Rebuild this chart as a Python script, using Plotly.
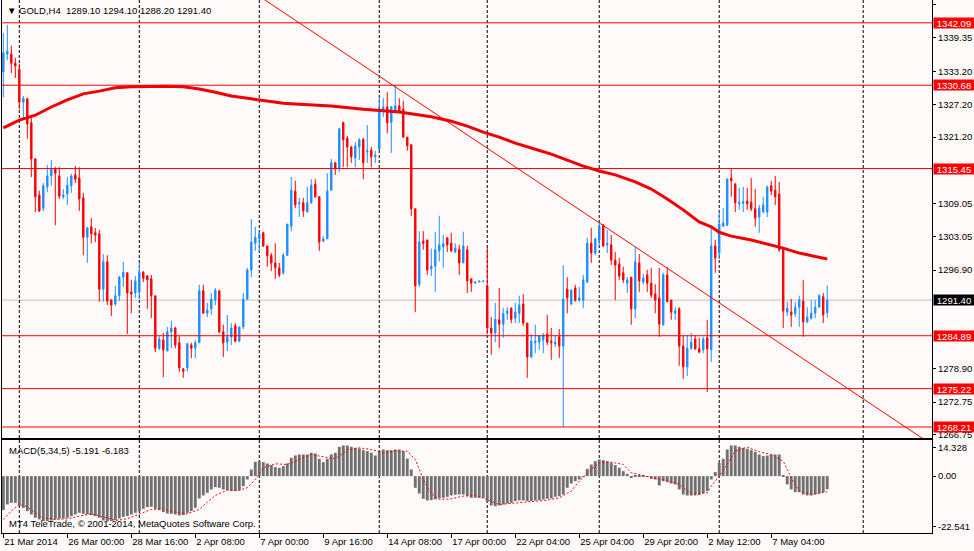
import plotly.graph_objects as go

# GOLD H4, 21 Mar 2014 .. 8 May 2014, x = bar number (MT4 skips weekends)
opens = [1333.1, 1336.4, 1336.4, 1334.7, 1333.6, 1327.6, 1328.2, 1323.8, 1317.2, 1310.6,
         1308.2, 1312.1, 1314.1, 1315.4, 1314.1, 1310.3, 1310.8, 1312.3, 1314.3, 1313.7,
         1310.1, 1302.9, 1304.8, 1303.7, 1303.5, 1293.4, 1298.4, 1291.4, 1290.7, 1292.2,
         1295.6, 1296.4, 1292.9, 1292.7, 1292.9, 1296.5, 1295.8, 1295.3, 1292.2, 1282.6,
         1284.1, 1282.1, 1285.6, 1286.3, 1283.6, 1278.8, 1279.0, 1283.2, 1282.6, 1283.6,
         1293.1, 1289.0, 1289.8, 1291.4, 1293.1, 1285.6, 1283.7, 1284.7, 1286.7, 1283.9,
         1286.5, 1291.6, 1296.9, 1301.8, 1302.6, 1303.7, 1301.3, 1299.6, 1298.2, 1297.3,
         1296.4, 1299.6, 1304.9, 1311.3, 1309.0, 1309.2, 1307.5, 1309.2, 1312.6, 1310.3,
         1302.2, 1302.6, 1311.5, 1316.5, 1315.5, 1323.9, 1321.0, 1319.4, 1317.4, 1319.4,
         1320.8, 1318.5, 1318.8, 1317.6, 1319.0, 1326.3, 1326.7, 1323.9, 1325.8, 1326.9,
         1326.3, 1321.2, 1319.8, 1308.1, 1294.3, 1302.2, 1302.4, 1297.1, 1297.6, 1300.4,
         1301.1, 1302.8, 1301.8, 1300.2, 1300.7, 1298.2, 1300.6, 1295.3, 1294.5, 1294.7,
         1294.8, 1294.0, 1286.3, 1285.4, 1287.8, 1287.0, 1289.0, 1289.9, 1288.1, 1289.0,
         1290.7, 1287.2, 1281.0, 1283.6, 1283.7, 1284.1, 1285.2, 1283.9, 1283.4, 1284.7,
         1283.0, 1293.4, 1290.7, 1293.6, 1291.4, 1291.4, 1294.7, 1301.8, 1300.0, 1302.4,
         1305.1, 1301.5, 1301.5, 1298.7, 1298.0, 1296.4, 1294.5, 1295.6, 1289.8, 1298.2,
         1294.7, 1296.0, 1294.5, 1292.5, 1291.8, 1286.9, 1296.0, 1291.4, 1289.0, 1289.8,
         1283.0, 1279.2, 1282.6, 1284.3, 1282.5, 1282.3, 1284.5, 1282.3, 1301.3, 1300.0,
         1304.9, 1305.1, 1313.7, 1312.6, 1309.0, 1309.1, 1309.5, 1309.3, 1308.1, 1306.6,
         1307.5, 1307.5, 1312.3, 1311.5, 1310.8, 1300.7, 1289.2, 1289.2, 1288.9, 1290.1,
         1291.2, 1287.4, 1288.1, 1289.0, 1290.1, 1292.0, 1289.1]
highs = [1340.2, 1341.7, 1337.9, 1335.7, 1334.6, 1328.7, 1328.3, 1325.2, 1317.4, 1311.4,
         1312.8, 1316.1, 1317.0, 1315.7, 1315.7, 1311.7, 1313.9, 1314.5, 1315.9, 1315.7,
         1311.0, 1304.8, 1306.4, 1304.6, 1304.2, 1299.8, 1299.6, 1291.6, 1294.0, 1295.8,
         1298.4, 1296.4, 1295.1, 1295.8, 1298.2, 1296.7, 1296.0, 1296.0, 1292.2, 1284.8,
         1285.4, 1286.5, 1287.6, 1286.5, 1284.8, 1279.0, 1283.6, 1283.6, 1284.1, 1294.2,
         1294.2, 1290.9, 1292.7, 1293.6, 1293.2, 1286.9, 1288.7, 1287.2, 1287.2, 1286.5,
         1292.7, 1297.3, 1306.2, 1304.8, 1303.9, 1303.9, 1301.3, 1300.0, 1301.8, 1298.2,
         1300.0, 1305.3, 1313.9, 1313.2, 1310.1, 1310.1, 1312.1, 1313.5, 1313.5, 1310.4,
         1303.1, 1314.6, 1317.2, 1316.6, 1322.9, 1323.9, 1321.4, 1319.6, 1320.3, 1321.0,
         1321.0, 1323.4, 1319.4, 1318.7, 1328.5, 1328.3, 1329.4, 1326.9, 1330.7, 1328.3,
         1327.8, 1321.2, 1319.9, 1308.1, 1304.0, 1304.0, 1302.4, 1300.8, 1303.9, 1306.8,
         1303.3, 1302.8, 1303.7, 1301.8, 1301.5, 1303.9, 1301.3, 1295.3, 1294.9, 1294.9,
         1294.9, 1301.1, 1288.3, 1290.9, 1293.6, 1290.0, 1290.1, 1290.1, 1290.9, 1292.2,
         1292.5, 1287.2, 1285.2, 1286.9, 1285.0, 1285.4, 1288.7, 1286.3, 1285.0, 1286.1,
         1297.8, 1295.6, 1293.4, 1294.2, 1293.8, 1296.0, 1302.8, 1304.6, 1302.8, 1305.7,
         1305.3, 1304.2, 1303.3, 1300.2, 1299.1, 1297.5, 1295.6, 1295.6, 1301.1, 1299.8,
         1296.2, 1296.9, 1297.3, 1294.3, 1297.3, 1296.4, 1297.5, 1291.4, 1290.1, 1290.1,
         1285.0, 1285.0, 1285.4, 1285.0, 1284.5, 1284.7, 1287.8, 1304.6, 1302.4, 1307.5,
         1308.2, 1313.7, 1315.4, 1312.8, 1311.9, 1312.1, 1311.9, 1313.7, 1311.7, 1308.8,
         1310.3, 1312.3, 1313.2, 1314.1, 1313.0, 1301.1, 1291.1, 1291.6, 1291.1, 1292.2,
         1295.1, 1290.1, 1291.4, 1291.4, 1292.5, 1292.7, 1294.1]
lows = [1328.5, 1335.3, 1332.9, 1332.0, 1326.3, 1324.7, 1320.9, 1313.9, 1307.5, 1307.5,
        1307.7, 1311.2, 1312.4, 1305.1, 1309.9, 1309.9, 1308.8, 1311.0, 1312.8, 1307.7,
        1299.6, 1298.2, 1301.8, 1302.0, 1291.1, 1291.1, 1290.5, 1288.5, 1290.3, 1291.2,
        1293.8, 1285.2, 1289.0, 1291.8, 1291.6, 1294.7, 1289.8, 1288.1, 1281.9, 1282.3,
        1277.3, 1282.1, 1282.6, 1282.6, 1278.3, 1277.2, 1278.3, 1280.8, 1280.8, 1283.6,
        1289.0, 1288.3, 1288.7, 1290.5, 1285.4, 1281.0, 1282.1, 1283.2, 1283.7, 1283.7,
        1286.1, 1291.4, 1295.6, 1300.4, 1300.2, 1301.1, 1297.5, 1296.7, 1295.3, 1295.6,
        1296.0, 1299.5, 1304.0, 1308.2, 1306.6, 1306.6, 1307.5, 1309.0, 1310.1, 1300.4,
        1302.0, 1302.6, 1311.5, 1314.3, 1314.8, 1315.7, 1315.7, 1316.5, 1315.7, 1317.0,
        1313.5, 1316.5, 1315.7, 1316.5, 1318.8, 1324.9, 1321.9, 1318.3, 1325.8, 1325.8,
        1321.0, 1318.7, 1306.8, 1289.2, 1293.8, 1300.6, 1296.0, 1295.8, 1292.9, 1298.5,
        1297.3, 1300.2, 1300.2, 1300.0, 1296.0, 1298.2, 1292.7, 1292.9, 1294.5, 1294.7,
        1294.7, 1285.2, 1281.4, 1283.7, 1282.6, 1284.5, 1287.8, 1287.2, 1287.2, 1287.2,
        1286.7, 1277.2, 1280.8, 1281.7, 1282.3, 1281.7, 1283.2, 1280.5, 1282.8, 1280.8,
        1268.2, 1289.0, 1290.5, 1291.1, 1291.1, 1289.9, 1294.5, 1298.2, 1299.6, 1301.3,
        1301.1, 1300.0, 1297.8, 1291.4, 1295.1, 1294.5, 1292.7, 1286.9, 1288.1, 1292.9,
        1294.3, 1292.9, 1291.8, 1289.0, 1284.7, 1286.7, 1291.1, 1287.8, 1287.8, 1279.4,
        1277.0, 1277.5, 1282.3, 1282.3, 1281.7, 1281.7, 1274.6, 1280.1, 1296.4, 1298.9,
        1304.8, 1304.9, 1310.3, 1307.5, 1307.9, 1307.5, 1307.9, 1307.7, 1304.8, 1303.7,
        1307.3, 1306.6, 1310.6, 1308.8, 1300.2, 1286.3, 1288.5, 1286.5, 1288.3, 1286.5,
        1284.7, 1287.2, 1287.8, 1288.1, 1290.1, 1287.2, 1288.2]
closes = [1336.6, 1336.9, 1334.7, 1334.2, 1327.6, 1328.3, 1323.6, 1317.2, 1310.3, 1307.7,
          1312.3, 1314.1, 1315.4, 1314.6, 1310.4, 1310.6, 1312.4, 1314.1, 1313.5, 1309.9,
          1302.9, 1304.6, 1303.5, 1303.3, 1293.4, 1298.4, 1291.2, 1290.5, 1292.2, 1295.6,
          1296.5, 1292.7, 1292.5, 1294.9, 1296.5, 1295.4, 1295.1, 1292.2, 1282.6, 1284.3,
          1282.3, 1285.6, 1286.3, 1283.2, 1279.0, 1278.4, 1283.4, 1282.6, 1283.6, 1293.1,
          1289.0, 1289.6, 1291.6, 1293.2, 1285.6, 1283.6, 1284.7, 1286.3, 1283.9, 1286.5,
          1291.6, 1296.9, 1302.0, 1302.9, 1303.5, 1301.3, 1299.5, 1298.2, 1297.3, 1296.0,
          1299.6, 1305.3, 1311.5, 1308.8, 1309.2, 1307.7, 1309.2, 1312.4, 1310.3, 1302.0,
          1302.6, 1311.3, 1316.5, 1315.5, 1322.7, 1320.7, 1319.4, 1317.6, 1319.6, 1320.7,
          1316.5, 1318.7, 1317.6, 1317.9, 1326.5, 1326.7, 1323.8, 1326.7, 1326.9, 1325.9,
          1321.2, 1319.6, 1308.1, 1294.0, 1302.0, 1301.8, 1296.9, 1297.6, 1300.6, 1301.5,
          1301.7, 1301.5, 1300.4, 1300.9, 1298.2, 1301.3, 1294.9, 1294.5, 1294.7, 1294.9,
          1294.9, 1286.3, 1285.4, 1287.9, 1287.0, 1288.9, 1289.4, 1287.9, 1289.2, 1290.5,
          1287.2, 1281.0, 1283.9, 1283.9, 1284.8, 1285.0, 1283.7, 1283.6, 1283.7, 1283.0,
          1291.6, 1291.8, 1293.2, 1291.4, 1291.8, 1295.1, 1301.8, 1300.0, 1302.6, 1304.9,
          1301.3, 1301.7, 1298.7, 1297.8, 1295.8, 1295.1, 1295.1, 1289.8, 1298.4, 1294.9,
          1295.4, 1294.5, 1292.3, 1291.4, 1287.0, 1296.0, 1291.1, 1289.2, 1289.4, 1283.0,
          1279.2, 1282.6, 1283.7, 1282.5, 1281.9, 1284.3, 1282.5, 1301.3, 1299.1, 1305.3,
          1305.5, 1313.5, 1313.2, 1309.2, 1309.3, 1309.4, 1309.0, 1308.1, 1306.4, 1308.2,
          1308.8, 1312.1, 1311.3, 1310.3, 1300.6, 1289.4, 1289.9, 1288.7, 1290.1, 1291.4,
          1287.4, 1288.3, 1289.0, 1290.1, 1292.2, 1288.7, 1291.4]
bars = list(range(len(opens)))

# red moving average, read at some bars
ma_x = [0, 4, 8, 12, 16, 20, 24, 28, 32, 37, 41, 45, 49, 53, 57, 62, 66, 70, 74, 78,
        82, 90, 99, 107, 112, 116, 120, 124, 128, 132, 137, 141, 145, 149, 153, 158, 162, 166, 170, 174,
        177, 179, 182, 187, 191, 195, 199, 203, 206]
ma_y = [1322.9, 1324.3, 1325.2, 1326.7, 1328.0, 1329.1, 1329.6, 1330.2, 1330.4, 1330.5,
        1330.5, 1330.4, 1330.0, 1329.4, 1328.7, 1328.2, 1327.8, 1327.4, 1327.2, 1327.1,
        1326.9, 1326.3, 1325.8, 1324.9, 1324.1, 1323.2, 1322.1, 1321.2, 1320.1, 1319.2,
        1318.1, 1317.0, 1315.9, 1315.0, 1314.3, 1313.0, 1311.7, 1309.9, 1307.9, 1305.7,
        1304.8, 1303.8, 1303.1, 1302.4, 1301.7, 1300.9, 1300.0, 1299.3, 1298.9]

# MACD(5,34,5) histogram + signal
macd = [-13.47, -11.23, -10.57, -10.57, -11.62, -12.55, -13.87, -15.19, -16.51, -17.17,
        -17.83, -17.83, -17.57, -17.17, -16.91, -16.78, -16.51, -15.85, -15.19, -14.53,
        -14.93, -15.19, -15.46, -15.85, -16.51, -17.57, -17.97, -17.83, -17.44, -16.78,
        -16.12, -15.85, -15.19, -14.53, -13.87, -12.95, -12.29, -12.15, -12.95, -13.47,
        -14.27, -14.80, -14.93, -15.19, -15.59, -15.46, -14.53, -13.87, -12.55, -8.85,
        -7.66, -6.61, -5.28, -4.36, -4.62, -5.28, -5.55, -5.94, -5.94, -5.68,
        -3.96, -1.32, 2.64, 5.68, 5.94, 5.55, 5.02, 4.36, 3.57, 3.30,
        3.96, 5.02, 7.27, 8.19, 8.59, 8.59, 8.59, 9.25, 8.98, 6.87,
        5.55, 6.87, 8.59, 9.25, 11.62, 12.15, 12.15, 11.62, 11.23, 10.96,
        10.30, 9.91, 9.25, 8.19, 9.91, 10.57, 10.30, 10.30, 10.57, 10.57,
        9.91, 7.00, 2.64, -4.62, -6.87, -8.98, -9.64, -9.51, -9.25, -8.85,
        -8.59, -8.19, -7.66, -7.40, -7.27, -7.27, -7.93, -8.59, -8.59, -8.59,
        -8.59, -10.30, -11.62, -11.89, -11.62, -11.23, -10.83, -10.57, -9.91, -9.64,
        -9.64, -9.91, -9.91, -9.64, -9.51, -9.25, -8.98, -8.85, -8.19, -7.93,
        -7.27, -4.62, -2.91, -1.98, -1.32, -0.26, 2.91, 4.62, 5.94, 6.61,
        6.34, 5.94, 5.28, 4.36, 3.30, 1.98, 0.92, -0.66, 0.40, 0.26,
        0.26, -0.26, -1.06, -1.32, -3.70, -1.98, -2.38, -2.91, -3.30, -5.28,
        -7.27, -7.66, -7.66, -7.66, -7.53, -6.87, -5.94, -1.32, 1.59, 5.28,
        6.87, 10.57, 12.15, 12.15, 11.62, 11.23, 10.83, 10.30, 9.64, 8.59,
        7.93, 8.19, 8.59, 8.59, 8.59, 0.26, -3.30, -5.28, -6.34, -6.34,
        -7.27, -7.66, -7.66, -7.27, -6.87, -6.34, -5.191]
sig_x = [0, 2, 4, 6, 8, 10, 13, 16, 19, 22, 25, 28, 31, 34, 37, 40, 43, 46, 49, 51,
         53, 56, 59, 61, 63, 65, 68, 71, 74, 77, 80, 83, 86, 89, 92, 95, 98, 101, 103, 105,
         107, 109, 112, 115, 118, 121, 124, 127, 132, 136, 139, 142, 144, 147, 149, 152, 155, 157, 160, 162,
         166, 169, 172, 176, 177, 179, 181, 183, 186, 189, 192, 195, 197, 199, 202, 206]
sig_y = [-17.17, -13.87, -11.23, -12.15, -14.53, -16.51, -17.17, -16.91, -15.85, -14.93,
         -16.12, -17.57, -16.91, -15.19, -13.21, -12.95, -14.27, -14.93, -13.21, -10.30,
         -7.66, -5.55, -5.55, -4.62, -1.32, 3.30, 4.89, 4.62, 6.61, 8.59,
         7.66, 6.87, 10.30, 11.23, 10.57, 9.25, 9.91, 9.91, 6.61, -1.32,
         -6.87, -9.25, -8.98, -7.93, -7.66, -9.25, -11.23, -10.83, -9.91, -9.51,
         -8.59, -5.94, -1.98, 2.64, 5.28, 5.55, 4.62, 1.32, 0.26, -0.66,
         -1.72, -3.30, -6.87, -6.61, -3.96, 0.0, 4.62, 9.91, 11.49, 9.64,
         8.59, 5.94, -0.66, -5.94, -7.27, -6.183]

# drawn objects
levels = [1342.09, 1330.68, 1315.45, 1284.89, 1275.22, 1268.21]
bid = 1291.40
trend_x = [60, 235]
trend_y = [1348.9, 1263.6]
week_lines = [4, 34, 64, 94, 121, 149, 179, 215]

# axis labels
xtick_vals = [0, 16, 32, 48, 64, 80, 96, 112, 128, 144, 160, 176, 192]
xtick_text = ['21 Mar 2014', '26 Mar 00:00', '28 Mar 16:00', '2 Apr 08:00', '7 Apr 00:00',
              '9 Apr 16:00', '14 Apr 08:00', '17 Apr 00:00', '22 Apr 04:00', '25 Apr 04:00',
              '29 Apr 20:00', '2 May 12:00', '7 May 04:00']
ytick_vals = [1345.35, 1339.35, 1333.20, 1327.20, 1321.20, 1309.05, 1303.05, 1296.90,
              1278.90, 1272.75, 1266.75]
macd_top, macd_bottom = 14.328, -22.541

FONT = 'Liberation Sans, Arial, sans-serif'
BG = '#FFFAFA'

fig = go.Figure()
fig.add_trace(go.Candlestick(
    x=bars, open=opens, high=highs, low=lows, close=closes,
    increasing=dict(line=dict(color='#1E90FF', width=1), fillcolor='#1E90FF'),
    decreasing=dict(line=dict(color='#FF0000', width=1), fillcolor='#FF0000'),
    whiskerwidth=0, hoverinfo='skip', showlegend=False))
fig.add_trace(go.Scatter(x=ma_x, y=ma_y, mode='lines',
                         line=dict(color='#F00000', width=3), hoverinfo='skip'))
fig.add_trace(go.Scatter(x=trend_x, y=trend_y, mode='lines',
                         line=dict(color='#FF0000', width=1), hoverinfo='skip'))
fig.add_trace(go.Bar(x=bars, y=macd, width=0.72, marker=dict(color='#707070', line=dict(width=0)),
                     xaxis='x2', yaxis='y2', hoverinfo='skip'))
fig.add_trace(go.Scatter(x=sig_x, y=sig_y, mode='lines', xaxis='x2', yaxis='y2',
                         line=dict(color='#FF0000', width=1, dash='2px,2px'), hoverinfo='skip'))

# horizontal lines + price boxes on the right axis
for lv in levels:
    fig.add_shape(type='line', xref='x domain', x0=0, x1=1, yref='y', y0=lv, y1=lv,
                  line=dict(color='#FF0000', width=1))
    fig.add_annotation(xref='paper', x=1, xanchor='left', xshift=1, yref='y', y=lv,
                       text=f'{lv:.2f}', showarrow=False, bgcolor='#FF0000', width=38, height=8,
                       borderpad=1, font=dict(family=FONT, size=9.5, color='white'))
fig.add_shape(type='line', xref='x domain', x0=0, x1=1, yref='y', y0=bid, y1=bid,
              line=dict(color='#C0C0C0', width=1), layer='below')
fig.add_annotation(xref='paper', x=1, xanchor='left', xshift=1, yref='y', y=bid,
                   text=f'{bid:.2f}', showarrow=False, bgcolor='#000000', width=38, height=8,
                   borderpad=1, font=dict(family=FONT, size=9.5, color='white'))

# weekly separators
for wx in week_lines:
    fig.add_shape(type='line', xref='x', x0=wx, x1=wx, yref='paper', y0=0, y1=1,
                  line=dict(color='black', width=1, dash='3px,2px'), layer='below')

fig.add_annotation(xref='paper', x=0, xanchor='left', xshift=3, yref='paper', y=1, yanchor='top',
                   yshift=-3, showarrow=False,
                   text='▼ GOLD,H4\u00a0\u00a01289.10 1294.10 1288.20 1291.40',
                   font=dict(family=FONT, size=9.5, color='black'))
fig.add_annotation(xref='paper', x=0, xanchor='left', xshift=5, yref='paper', y=0.1745,
                   yanchor='top', yshift=-3, showarrow=False,
                   text='MACD(5,34,5) -5.191 -6.183',
                   font=dict(family=FONT, size=9.5, color='black'))
fig.add_annotation(xref='paper', x=0, xanchor='left', xshift=5, yref='paper', y=0,
                   yanchor='bottom', yshift=2, showarrow=False,
                   text='MT4 TeleTrade, © 2001-2014, MetaQuotes Software Corp.',
                   font=dict(family=FONT, size=9.5, color='black'))

axis_common = dict(showgrid=False, zeroline=False, showline=True, linecolor='black',
                   linewidth=1, mirror=True, tickcolor='black', automargin=False,
                   tickfont=dict(family=FONT, size=9.5, color='black'))
fig.update_layout(
    width=974, height=551, margin=dict(l=2, r=42, t=0, b=18),
    paper_bgcolor=BG, plot_bgcolor='rgba(0,0,0,0)', showlegend=False, boxgap=0.5,
    xaxis=dict(domain=[0, 1], range=[-0.33, 232.2], anchor='y', showticklabels=False, ticks='',
               rangeslider=dict(visible=False), **axis_common),
    yaxis=dict(domain=[0.1782, 1], range=[1266.19, 1346.26], side='right', anchor='x',
               tickvals=ytick_vals, ticktext=[f'{v:.2f}' for v in ytick_vals],
               ticks='outside', ticklen=3, **axis_common),
    xaxis2=dict(domain=[0, 1], matches='x', anchor='y2', tickvals=xtick_vals, ticktext=xtick_text,
                ticks='outside', ticklen=4, tickangle=0, ticklabelposition='outside right',
                **axis_common),
    yaxis2=dict(domain=[0, 0.1745], range=[macd_bottom, macd_top], side='right', anchor='x2',
                tickvals=[11.43, 0, -20.04],
                ticktext=[f'{macd_top:.3f}', '0.00', f'{macd_bottom:.3f}'],
                ticks='outside', ticklen=3, **axis_common),
)

# page body has an 8px default margin, drop it so the chart sits at 0,0
fig.write_html("out.html", config={'displayModeBar': False},
               post_script="document.body.style.margin='0px';")
